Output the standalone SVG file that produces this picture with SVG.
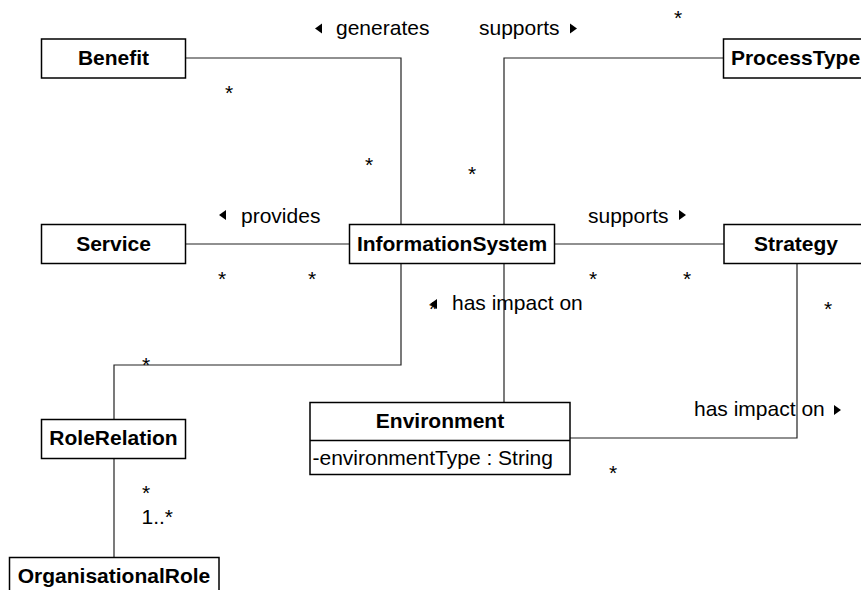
<svg xmlns="http://www.w3.org/2000/svg" width="861" height="590" viewBox="0 0 861 590">
<style>
  .box{fill:#fff;stroke:#000;stroke-width:1.5}
  .name{font-family:"Liberation Sans",Arial,sans-serif;font-weight:bold;font-size:21px;text-anchor:middle;fill:#000}
  .attr{font-family:"Liberation Sans",Arial,sans-serif;font-size:21px;fill:#000}
  .lbl{font-family:"Liberation Sans",Arial,sans-serif;font-size:21px;fill:#000}
  .mult{font-family:"Liberation Sans",Arial,sans-serif;font-size:21px;fill:#000;text-anchor:middle}
  .edge{fill:none;stroke:#222;stroke-width:1.2}
  .tri{fill:#000}
</style>
<rect width="861" height="590" fill="#fff"/>
<g id="connectors">
  <g id="e-generates">
    <polyline class="edge" points="186,58 401,58 401,225"/>
    <polygon class="tri" points="315,28.5 322,23.5 322,33.5"/>
    <text class="lbl" x="336" y="35">generates</text>
    <text class="mult" x="229" y="100">*</text>
    <text class="mult" x="369" y="172">*</text>
  </g>
  <g id="e-supports-process">
    <polyline class="edge" points="504,225 504,58 723.5,58"/>
    <text class="lbl" x="479" y="35">supports</text>
    <polygon class="tri" points="577,28.5 570,23.5 570,33.5"/>
    <text class="mult" x="678" y="25">*</text>
    <text class="mult" x="472" y="181">*</text>
  </g>
  <g id="e-provides">
    <line class="edge" x1="186" y1="244" x2="349" y2="244"/>
    <polygon class="tri" points="219,215 226,210 226,220"/>
    <text class="lbl" x="241" y="223">provides</text>
    <text class="mult" x="222" y="286">*</text>
    <text class="mult" x="312" y="286">*</text>
  </g>
  <g id="e-supports-strategy">
    <line class="edge" x1="554" y1="244" x2="724" y2="244"/>
    <text class="lbl" x="588" y="223">supports</text>
    <polygon class="tri" points="686,215 679,210 679,220"/>
    <text class="mult" x="593" y="286">*</text>
    <text class="mult" x="687" y="286">*</text>
  </g>
  <g id="e-impact-is">
    <line class="edge" x1="504" y1="263" x2="504" y2="402"/>
    <polygon class="tri" points="430,304 437,299 437,309"/>
    <text class="lbl" x="452" y="310">has impact on</text>
    <text class="mult" x="433" y="316">*</text>
  </g>
  <g id="e-impact-strategy">
    <polyline class="edge" points="797,263 797,438 570,438"/>
    <text class="lbl" x="694" y="416">has impact on</text>
    <polygon class="tri" points="841,410 834,405 834,415"/>
    <text class="mult" x="828" y="316">*</text>
    <text class="mult" x="613" y="480">*</text>
  </g>
  <g id="e-rolerelation">
    <polyline class="edge" points="401,263 401,365 114,365 114,419"/>
    <text class="mult" x="146" y="372">*</text>
  </g>
  <g id="e-orgrole">
    <line class="edge" x1="114" y1="458" x2="114" y2="557.5"/>
    <text class="mult" x="146" y="500">*</text>
    <text class="lbl" x="141.5" y="524">1..*</text>
  </g>
</g>
<g id="Benefit">
  <rect class="box" x="41.5" y="39" width="144" height="39"/>
  <text class="name" x="113.5" y="65">Benefit</text>
</g>
<g id="ProcessType">
  <rect class="box" x="723.5" y="39" width="144" height="39"/>
  <text class="name" x="795.5" y="65">ProcessType</text>
</g>
<g id="Service">
  <rect class="box" x="41.5" y="224.5" width="144" height="39"/>
  <text class="name" x="113.5" y="250.5">Service</text>
</g>
<g id="InformationSystem">
  <rect class="box" x="349.5" y="224.5" width="205" height="39"/>
  <text class="name" x="452" y="250.5">InformationSystem</text>
</g>
<g id="Strategy">
  <rect class="box" x="724" y="224.5" width="144" height="39"/>
  <text class="name" x="796" y="250.5">Strategy</text>
</g>
<g id="Environment">
  <rect class="box" x="310" y="402.5" width="260" height="72"/>
  <line x1="310" y1="440.5" x2="570" y2="440.5" stroke="#000" stroke-width="1.5"/>
  <text class="name" x="440" y="428">Environment</text>
  <text class="attr" x="312.5" y="465">-environmentType : String</text>
</g>
<g id="RoleRelation">
  <rect class="box" x="41.5" y="419.5" width="144" height="39"/>
  <text class="name" x="113.5" y="445">RoleRelation</text>
</g>
<g id="OrganisationalRole">
  <rect class="box" x="9.5" y="557.5" width="209.5" height="39"/>
  <text class="name" x="114" y="583">OrganisationalRole</text>
</g>
</svg>
